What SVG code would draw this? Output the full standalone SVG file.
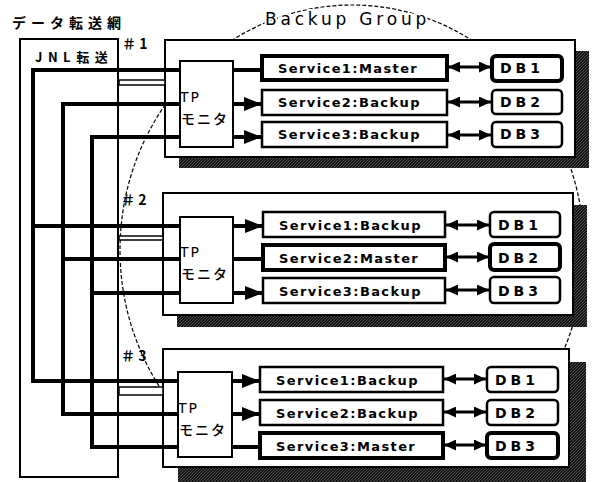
<svg xmlns="http://www.w3.org/2000/svg" width="593" height="482" viewBox="0 0 593 482">
<style>
.panel{fill:#fff;stroke:#000;stroke-width:2}
.shadow{fill:url(#hatch)}
.tp{fill:#fff;stroke:#000;stroke-width:2}
.svc{fill:#fff;stroke:#000;stroke-width:2.5}
.db{fill:#fff;stroke:#000;stroke-width:2.5}
.master{stroke-width:4}
.bus{fill:none;stroke:#000;stroke-width:4}
.thin{fill:#fff;stroke:#000;stroke-width:1.5}
.dbl{stroke:#000;stroke-width:3;marker-start:url(#dh);marker-end:url(#dh)}
.arr{stroke:#000;stroke-width:4;marker-end:url(#ah)}
.plain{stroke:#000;stroke-width:4}
.st{font-family:"DejaVu Sans",sans-serif;font-weight:bold;font-size:13px;letter-spacing:1.4px}
.dt{font-family:"DejaVu Sans",sans-serif;font-weight:bold;font-size:14px;letter-spacing:4px}
.jp{font-family:"Noto Sans CJK JP",sans-serif;font-weight:bold}
.tpt{font-family:"DejaVu Sans",sans-serif;font-size:14px;letter-spacing:2px}
.mon{font-family:"Noto Sans CJK JP",sans-serif;font-size:14px;font-weight:500;letter-spacing:2px}
.num{font-family:"Noto Sans CJK JP",sans-serif;font-weight:bold;font-size:14px}
</style>
<defs>
<pattern id="hatch" width="3" height="3" patternUnits="userSpaceOnUse">
<rect width="3" height="3" fill="#141414"/>
<path d="M0,3 L3,0" stroke="#8a8a8a" stroke-width="0.5"/>
</pattern>
<marker id="ah" viewBox="0 0 18 14" markerWidth="18" markerHeight="14" refX="18" refY="7" orient="auto" markerUnits="userSpaceOnUse">
<path d="M0,0 L18,7 L0,14 z" fill="#000"/>
</marker>
<marker id="dh" viewBox="0 0 12 11" markerWidth="12" markerHeight="11" refX="12" refY="5.5" orient="auto-start-reverse" markerUnits="userSpaceOnUse">
<path d="M0,0 L12,5.5 L0,11 z" fill="#000"/>
</marker>
</defs>
<rect width="593" height="482" fill="#fff"/>

<g id="backup-group">
<ellipse cx="352" cy="250" rx="232" ry="245" fill="none" stroke="#000" stroke-width="1.2" stroke-dasharray="4 2"/>
<text x="265" y="25" font-family="DejaVu Sans,sans-serif" font-size="17" font-weight="500" letter-spacing="3.8" stroke="#fff" stroke-width="4" paint-order="stroke" fill="#000">Backup Group</text>
</g>

<g id="network-label">
<text class="jp" x="12" y="28" font-size="14" letter-spacing="5">データ転送網</text>
</g>

<g id="jnl">
<rect x="20" y="39" width="98" height="438" fill="none" stroke="#000" stroke-width="2"/>
<text class="jp" x="35" y="62" font-size="13" letter-spacing="5.5">JNL転送</text>
</g>

<g id="site1">
<rect class="shadow" x="179" y="51" width="410" height="117"/>
<rect class="panel" x="165" y="40" width="410" height="117"/>
<text class="num" x="122" y="49">＃ 1</text>
<g id="tp1"><rect class="tp" x="180" y="61" width="53" height="86"/>
<text class="tpt" x="180" y="102">TP</text>
<text class="mon" x="181" y="124">モニタ</text></g>
<g id="s1-1"><rect class="svc master" x="262" y="56" width="185" height="24"/><text class="st" x="278" y="73">Service1:Master</text></g>
<g id="s1-2"><rect class="svc" x="262" y="90" width="185" height="25"/><text class="st" x="278" y="107">Service2:Backup</text></g>
<g id="s1-3"><rect class="svc" x="262" y="122" width="185" height="25"/><text class="st" x="278" y="139">Service3:Backup</text></g>
<g id="db1-1"><rect class="db master" x="492" y="56" width="70" height="25" rx="4"/><text class="dt" x="500" y="73">DB1</text></g>
<g id="db1-2"><rect class="db" x="492" y="90" width="70" height="24" rx="4"/><text class="dt" x="500" y="107">DB2</text></g>
<g id="db1-3"><rect class="db" x="492" y="122" width="70" height="25" rx="4"/><text class="dt" x="500" y="139">DB3</text></g>
</g>

<g id="site2">
<rect class="shadow" x="177" y="205" width="410" height="122"/>
<rect class="panel" x="163" y="193" width="410" height="122"/>
<text class="num" x="121" y="205">＃ 2</text>
<g id="tp2"><rect class="tp" x="180" y="217" width="53" height="86"/>
<text class="tpt" x="180" y="257">TP</text>
<text class="mon" x="181" y="279">モニタ</text></g>
<g id="s2-1"><rect class="svc" x="263" y="212" width="182" height="25"/><text class="st" x="279" y="230">Service1:Backup</text></g>
<g id="s2-2"><rect class="svc master" x="263" y="245" width="182" height="25"/><text class="st" x="279" y="263">Service2:Master</text></g>
<g id="s2-3"><rect class="svc" x="263" y="278" width="182" height="25"/><text class="st" x="279" y="296">Service3:Backup</text></g>
<g id="db2-1"><rect class="db" x="490" y="212" width="70" height="25" rx="4"/><text class="dt" x="498" y="230">DB1</text></g>
<g id="db2-2"><rect class="db master" x="490" y="244" width="70" height="26" rx="4"/><text class="dt" x="498" y="263">DB2</text></g>
<g id="db2-3"><rect class="db" x="490" y="277" width="70" height="26" rx="4"/><text class="dt" x="498" y="296">DB3</text></g>
</g>

<g id="site3">
<rect class="shadow" x="178" y="362" width="408" height="125"/>
<rect class="panel" x="163" y="349" width="406" height="118"/>
<text class="num" x="121" y="361">＃ 3</text>
<g id="tp3"><rect class="tp" x="178" y="372" width="54" height="85"/>
<text class="tpt" x="178" y="413">TP</text>
<text class="mon" x="179" y="435">モニタ</text></g>
<g id="s3-1"><rect class="svc" x="260" y="367" width="183" height="25"/><text class="st" x="276" y="385">Service1:Backup</text></g>
<g id="s3-2"><rect class="svc" x="260" y="400" width="183" height="25"/><text class="st" x="276" y="418">Service2:Backup</text></g>
<g id="s3-3"><rect class="svc master" x="260" y="433" width="183" height="25"/><text class="st" x="276" y="451">Service3:Master</text></g>
<g id="db3-1"><rect class="db" x="487" y="367" width="71" height="25" rx="4"/><text class="dt" x="495" y="385">DB1</text></g>
<g id="db3-2"><rect class="db" x="487" y="400" width="71" height="25" rx="4"/><text class="dt" x="495" y="418">DB2</text></g>
<g id="db3-3"><rect class="db master" x="487" y="433" width="71" height="25" rx="4"/><text class="dt" x="495" y="451">DB3</text></g>
</g>

<g id="connectors">
<rect class="thin" x="119" y="80" width="46" height="5"/>
<rect class="thin" x="119" y="236" width="44" height="4"/>
<rect class="thin" x="119" y="387" width="44" height="8"/>
<path class="bus" d="M180,70 H33 V381 H178 M33,226 H180"/>
<path class="bus" d="M180,104 H63 V414 H178 M63,259 H180"/>
<path class="bus" d="M180,137 H92 V447 H178 M92,293 H180"/>
<line class="plain" x1="233" y1="70" x2="262" y2="70"/>
<line class="arr" x1="233" y1="104" x2="262" y2="104"/>
<line class="arr" x1="233" y1="137" x2="262" y2="137"/>
<line class="arr" x1="233" y1="226" x2="263" y2="226"/>
<line class="plain" x1="233" y1="259" x2="263" y2="259"/>
<line class="arr" x1="233" y1="293" x2="263" y2="293"/>
<line class="arr" x1="232" y1="381" x2="260" y2="381"/>
<line class="arr" x1="232" y1="414" x2="260" y2="414"/>
<line class="plain" x1="232" y1="447" x2="260" y2="447"/>
<line class="dbl" x1="448" y1="67" x2="491" y2="67"/>
<line class="dbl" x1="448" y1="102" x2="491" y2="102"/>
<line class="dbl" x1="448" y1="135" x2="491" y2="135"/>
<line class="dbl" x1="446" y1="225" x2="489" y2="225"/>
<line class="dbl" x1="446" y1="257" x2="489" y2="257"/>
<line class="dbl" x1="446" y1="290" x2="489" y2="290"/>
<line class="dbl" x1="444" y1="379" x2="486" y2="379"/>
<line class="dbl" x1="444" y1="412" x2="486" y2="412"/>
<line class="dbl" x1="444" y1="445" x2="486" y2="445"/>
</g>
</svg>
